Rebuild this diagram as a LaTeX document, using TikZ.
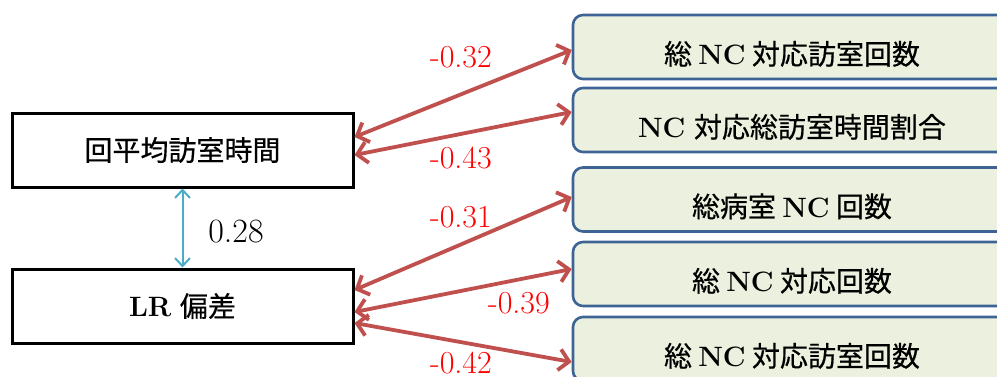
\documentclass[tikz,border=0pt]{standalone}
\usepackage{fontspec}
\newfontfamily\jp[FakeBold=0.5]{Noto Sans CJK JP}
\newcommand\lat[1]{{\rmfamily\bfseries #1}}
\usetikzlibrary{arrows.meta,calc}
\definecolor{corr}{HTML}{C0504D}
\definecolor{linkblue}{HTML}{4BACC6}
\definecolor{boxedge}{HTML}{3E6495}
\definecolor{boxfill}{HTML}{EBF1DE}
\definecolor{labelred}{HTML}{FF0000}
\begin{document}
\begin{tikzpicture}[x=1pt,y=-1pt,
  leftbox/.style={draw=black,line width=3pt,minimum width=341pt,minimum height=74pt,
    inner sep=0pt,font=\fontsize{28}{32}\selectfont},
  rightbox/.style={draw=boxedge,fill=boxfill,line width=2.6pt,rounded corners=10pt,
    minimum width=438pt,minimum height=64pt,inner sep=0pt,
    text height=36pt,text depth=1pt,font=\fontsize{28}{32}\selectfont},
  corrarrow/.style={draw=corr,line width=3.8pt,
    {Straight Barb[length=10pt,width=21pt]}-{Straight Barb[length=10pt,width=21pt]}},
  linkarrow/.style={draw=linkblue,line width=2pt,
    {Straight Barb[length=8pt,width=15pt]}-{Straight Barb[length=8pt,width=15pt]}},
  corrlabel/.style={text=labelred,inner sep=0pt,font=\fontsize{32}{36}\selectfont},
  linklabel/.style={text=black,inner sep=0pt,font=\fontsize{34}{38}\selectfont}]
\useasboundingbox (0,0) rectangle (997,376);

% observed variables on the left
\node[leftbox] (visit) at (182.5,150) {\jp 回平均訪室時間};
\node[leftbox] (lr) at (182.5,306) {\lat{LR} \jp 偏差};

% nurse-call indicators on the right
\node[rightbox] (r1) at (792,47) {\jp 総 \lat{NC} 対応訪室回数};
\node[rightbox] (r2) at (792,120) {\lat{NC} \jp 対応総訪室時間割合};
\node[rightbox] (r3) at (792,199.5) {\jp 総病室 \lat{NC} 回数};
\node[rightbox] (r4) at (792,274) {\jp 総 \lat{NC} 対応回数};
\node[rightbox] (r5) at (792,349) {\jp 総 \lat{NC} 対応訪室回数};

% correlations
\draw[linkarrow] (visit.south) -- (lr.north);
\node[linklabel] (c0) at (236,232) {0.28};

\draw[corrarrow] ($(visit.east)+(0,-13)$) -- ($(r1.west)+(0,3)$);
\draw[corrarrow] ($(visit.east)+(0,5)$) -- ($(r2.west)+(0,-8)$);
\draw[corrarrow] ($(lr.east)+(0,-16)$) -- ($(r3.west)+(0,-2.5)$);
\draw[corrarrow] ($(lr.east)+(0,6)$) -- ($(r4.west)+(0,-5)$);
\draw[corrarrow] ($(lr.east)+(0,17)$) -- ($(r5.west)+(0,13)$);

\node[corrlabel] (c1) at (461,57) {-0.32};
\node[corrlabel] (c2) at (461,158) {-0.43};
\node[corrlabel] (c3) at (461,217) {-0.31};
\node[corrlabel] (c4) at (519,303) {-0.39};
\node[corrlabel] (c5) at (461,363) {-0.42};
\end{tikzpicture}
\end{document}
